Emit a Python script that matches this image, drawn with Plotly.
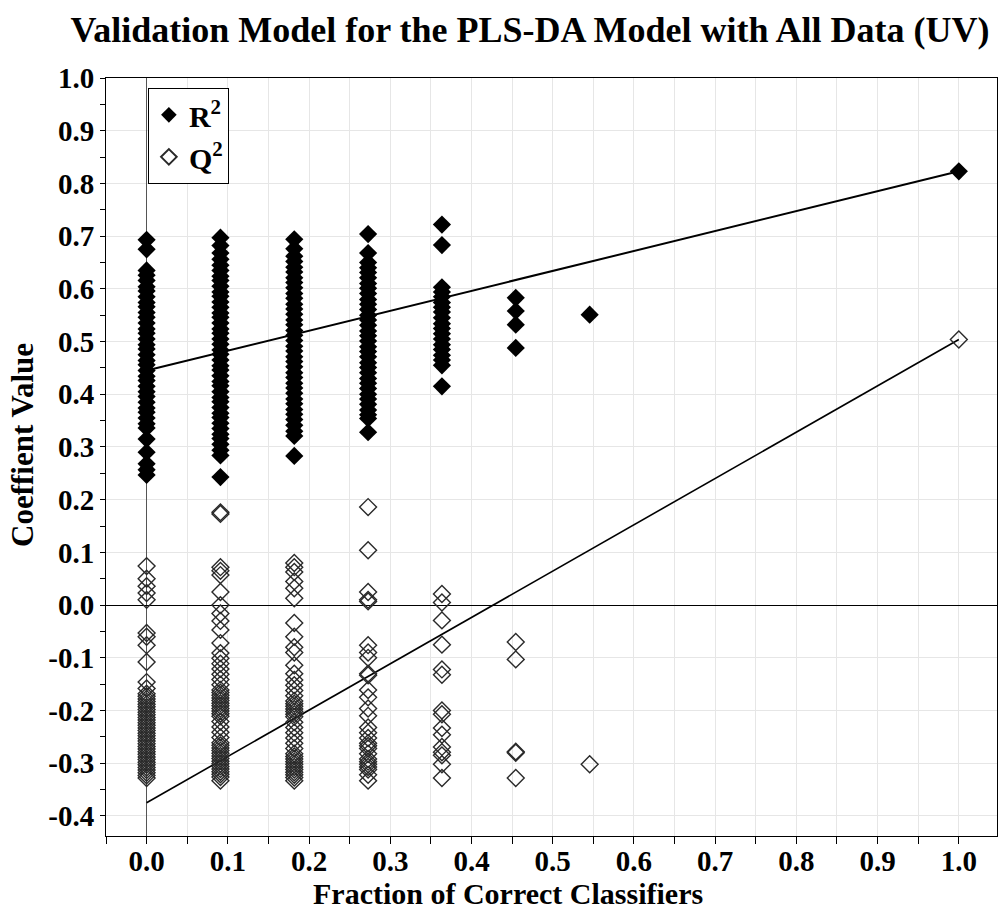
import plotly.graph_objects as go

# x positions of the classifier fractions (k/11) and 1.0 for the real model
x_levels = [0.0, 0.0909, 0.1818, 0.2727, 0.3636, 0.4545, 0.5455, 1.0]

# R2 values per column
r2_col0 = [0.693, 0.675, 0.635, 0.626, 0.616, 0.604, 0.596, 0.585, 0.574, 0.566, 0.555, 0.546,
           0.535, 0.524, 0.516, 0.505, 0.494, 0.486, 0.475, 0.464, 0.456, 0.445, 0.434, 0.426,
           0.415, 0.405, 0.396, 0.385, 0.374, 0.366, 0.355, 0.344, 0.336, 0.315, 0.29, 0.268,
           0.257, 0.247]
r2_col1 = [0.697, 0.682, 0.668, 0.656, 0.645, 0.635, 0.624, 0.616, 0.605, 0.594, 0.586, 0.575,
           0.565, 0.554, 0.546, 0.535, 0.524, 0.516, 0.505, 0.495, 0.484, 0.476, 0.465, 0.454,
           0.446, 0.435, 0.424, 0.416, 0.405, 0.394, 0.386, 0.375, 0.364, 0.356, 0.345, 0.335,
           0.324, 0.316, 0.305, 0.294, 0.284, 0.243]
r2_col2 = [0.694, 0.676, 0.662, 0.652, 0.641, 0.632, 0.621, 0.612, 0.602, 0.591, 0.582, 0.571,
           0.562, 0.552, 0.541, 0.532, 0.521, 0.512, 0.502, 0.491, 0.482, 0.471, 0.462, 0.452,
           0.441, 0.432, 0.421, 0.412, 0.402, 0.391, 0.382, 0.371, 0.362, 0.352, 0.341, 0.33,
           0.321, 0.283]
r2_col3 = [0.704, 0.668, 0.65, 0.64, 0.631, 0.621, 0.61, 0.601, 0.591, 0.58, 0.571, 0.561,
           0.55, 0.541, 0.531, 0.52, 0.511, 0.501, 0.49, 0.481, 0.471, 0.46, 0.451, 0.441,
           0.43, 0.421, 0.411, 0.4, 0.391, 0.381, 0.37, 0.361, 0.354, 0.328]
r2_col4 = [0.722, 0.683, 0.603, 0.594, 0.585, 0.574, 0.565, 0.556, 0.545, 0.534, 0.525, 0.515,
           0.505, 0.494, 0.485, 0.474, 0.465, 0.455, 0.415]
r2_col5 = [0.583, 0.558, 0.532, 0.488]
r2_col6 = [0.551]
r2_col7 = [0.823]

# Q2 values per column
q2_col0 = [0.074, 0.05, 0.036, 0.023, 0.01, -0.053, -0.06, -0.076, -0.108, -0.146, -0.158,
           -0.168, -0.173, -0.178, -0.183, -0.188, -0.193, -0.198, -0.203, -0.208, -0.213,
           -0.218, -0.223, -0.228, -0.233, -0.238, -0.243, -0.248, -0.253, -0.258, -0.263,
           -0.268, -0.273, -0.278, -0.283, -0.288, -0.293, -0.298, -0.303, -0.308, -0.313,
           -0.318, -0.323, -0.328]
q2_col1 = [0.176, 0.173, 0.072, 0.065, 0.057, 0.025, 0.0, -0.016, -0.03, -0.047, -0.072,
           -0.091, -0.101, -0.111, -0.121, -0.131, -0.141, -0.151, -0.161, -0.166, -0.171,
           -0.176, -0.181, -0.186, -0.191, -0.196, -0.201, -0.206, -0.211, -0.221, -0.231,
           -0.241, -0.251, -0.261, -0.266, -0.271, -0.276, -0.281, -0.286, -0.291, -0.296,
           -0.301, -0.306, -0.311, -0.316, -0.321, -0.326, -0.333]
q2_col2 = [0.08, 0.072, 0.063, 0.045, 0.032, 0.013, -0.034, -0.06, -0.08, -0.09, -0.114,
           -0.13, -0.142, -0.152, -0.162, -0.172, -0.182, -0.187, -0.192, -0.197, -0.202,
           -0.207, -0.212, -0.222, -0.232, -0.242, -0.252, -0.262, -0.272, -0.282, -0.287,
           -0.292, -0.297, -0.302, -0.307, -0.312, -0.317, -0.322, -0.327, -0.333]
q2_col3 = [0.186, 0.104, 0.025, 0.01, 0.007, -0.076, -0.09, -0.1, -0.13, -0.133, -0.161,
           -0.175, -0.196, -0.21, -0.232, -0.242, -0.252, -0.262, -0.267, -0.272, -0.282,
           -0.292, -0.297, -0.302, -0.307, -0.312, -0.322, -0.333]
q2_col4 = [0.021, 0.005, -0.029, -0.075, -0.122, -0.132, -0.2, -0.207, -0.233, -0.246,
           -0.269, -0.279, -0.285, -0.302, -0.328]
q2_col5 = [-0.07, -0.103, -0.278, -0.28, -0.328]
q2_col6 = [-0.302]
q2_col7 = [0.504]

# fitted lines (intercept at x=0, end at the real model x=1.0)
line_x = [0.0, 1.0]
r2_line = [0.445, 0.823]
q2_line = [-0.375, 0.504]

x_ticks = [0.0, 0.1, 0.2, 0.3, 0.4, 0.5, 0.6, 0.7, 0.8, 0.9, 1.0]
x_ticktext = ["0.0", "0.1", "0.2", "0.3", "0.4", "0.5", "0.6", "0.7", "0.8", "0.9", "1.0"]
y_ticks = [-0.4, -0.3, -0.2, -0.1, 0.0, 0.1, 0.2, 0.3, 0.4, 0.5, 0.6, 0.7, 0.8, 0.9, 1.0]
y_ticktext = ["-0.4", "-0.3", "-0.2", "-0.1", "0.0", "0.1", "0.2", "0.3", "0.4", "0.5",
              "0.6", "0.7", "0.8", "0.9", "1.0"]

r2_cols = [r2_col0, r2_col1, r2_col2, r2_col3, r2_col4, r2_col5, r2_col6, r2_col7]
q2_cols = [q2_col0, q2_col1, q2_col2, q2_col3, q2_col4, q2_col5, q2_col6, q2_col7]

r2_x, r2_y, q2_x, q2_y = [], [], [], []
for xv, col in zip(x_levels, r2_cols):
    r2_x += [xv] * len(col)
    r2_y += col
for xv, col in zip(x_levels, q2_cols):
    q2_x += [xv] * len(col)
    q2_y += col

FONT = "Liberation Serif, Times New Roman, serif"

fig = go.Figure()
fig.add_trace(go.Scatter(x=line_x, y=r2_line, mode="lines", line=dict(color="black", width=2),
                         showlegend=False, hoverinfo="skip"))
fig.add_trace(go.Scatter(x=line_x, y=q2_line, mode="lines", line=dict(color="black", width=1.6),
                         showlegend=False, hoverinfo="skip"))
fig.add_trace(go.Scatter(x=r2_x, y=r2_y, mode="markers", name="R<sup>2</sup>",
                         marker=dict(symbol="diamond", size=14, color="black",
                                     line=dict(width=0))))
fig.add_trace(go.Scatter(x=q2_x, y=q2_y, mode="markers", name="Q<sup>2</sup>",
                         marker=dict(symbol="diamond-open", size=13, color="#2a2a2a",
                                     line=dict(width=1.4))))

axis_common = dict(showline=True, linecolor="black", linewidth=1, mirror=True,
                   ticks="outside", tickcolor="black",
                   gridcolor="#e6e6e6", gridwidth=1)

fig.update_xaxes(range=[-0.05, 1.047], tickvals=x_ticks, ticktext=x_ticktext,
                 zeroline=True, zerolinecolor="#555555", zerolinewidth=1, ticklen=7,
                 ticklabelstandoff=-8,
                 tickfont=dict(family=FONT, size=29, color="black", weight="bold"),
                 minor=dict(dtick=0.05, tick0=0, ticks="outside", ticklen=7, tickcolor="black",
                            showgrid=True, gridcolor="#e6e6e6"),
                 **axis_common)
fig.update_yaxes(range=[-0.438, 1.0], tickvals=y_ticks, ticktext=y_ticktext,
                 zeroline=True, zerolinecolor="black", zerolinewidth=1, ticklen=5,
                 tickfont=dict(family=FONT, size=29, color="black", weight="bold"),
                 minor=dict(dtick=0.05, tick0=0, ticks="outside", ticklen=5, tickcolor="black",
                            showgrid=False),
                 **axis_common)

fig.update_layout(
    width=1000, height=914,
    margin=dict(l=106, r=3, t=78, b=78),
    paper_bgcolor="white", plot_bgcolor="white",
    font=dict(family=FONT, color="black"),
    title=dict(text="Validation Model for the PLS-DA Model with All Data (UV)",
               x=0.53, xanchor="center", y=1 - 29 / 914, yanchor="middle",
               font=dict(family=FONT, size=36, color="black", weight="bold")),
    legend=dict(x=0.047, y=0.987, xanchor="left", yanchor="top",
                bgcolor="white", bordercolor="black", borderwidth=1,
                font=dict(family=FONT, size=30, color="black", weight="bold"),
                itemsizing="constant", tracegroupgap=0),
    annotations=[
        dict(text="Fraction of Correct Classifiers", xref="paper", yref="paper",
             x=0.451, y=-0.0765, xanchor="center", yanchor="middle", showarrow=False,
             font=dict(family=FONT, size=30, color="black", weight="bold")),
        dict(text="Coeffient Value", xref="paper", yref="paper",
             x=-0.093, y=0.516, xanchor="center", yanchor="middle", showarrow=False,
             textangle=-90,
             font=dict(family=FONT, size=31, color="black", weight="bold")),
    ],
)

fig.write_html("out.html")
